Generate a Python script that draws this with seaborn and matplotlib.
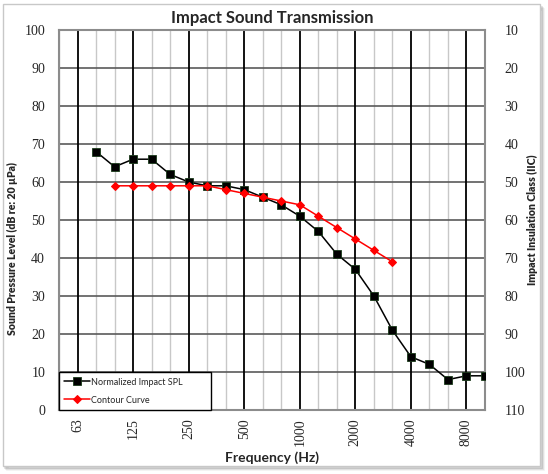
import numpy as np
import pandas as pd
import matplotlib
matplotlib.use("Agg")
import matplotlib.pyplot as plt
import matplotlib.patches as mpatches
import seaborn as sns

# third-octave bands shown on the x axis
bands = [50, 63, 80, 100, 125, 160, 200, 250, 315, 400, 500, 630, 800,
         1000, 1250, 1600, 2000, 2500, 3150, 4000, 5000, 6300, 8000, 10000]
octave_labels = ["63", "125", "250", "500", "1000", "2000", "4000", "8000"]

spl_bands = [80, 100, 125, 160, 200, 250, 315, 400, 500, 630, 800, 1000,
             1250, 1600, 2000, 2500, 3150, 4000, 5000, 6300, 8000, 10000]
spl_values = [68, 64, 66, 66, 62, 60, 59, 59, 58, 56, 54, 51,
              47, 41, 37, 30, 21, 14, 12, 8, 9, 9]

contour_bands = [100, 125, 160, 200, 250, 315, 400, 500, 630, 800, 1000,
                 1250, 1600, 2000, 2500, 3150]
contour_values = [59, 59, 59, 59, 59, 59, 58, 57, 56, 55, 54,
                  51, 48, 45, 42, 39]

pos = {b: i for i, b in enumerate(bands)}
spl = pd.DataFrame({"x": [pos[b] for b in spl_bands], "y": spl_values})
contour = pd.DataFrame({"x": [pos[b] for b in contour_bands], "y": contour_values})

sns.set_style("white")
SANS = "Lato"
SERIF = "Liberation Serif"
plt.rcParams["font.family"] = SERIF

fig = plt.figure(figsize=(5.48, 4.74), dpi=100)
fig.subplots_adjust(left=59/548, right=485/548, top=1-30/474, bottom=1-410/474)
ax = fig.add_subplot(111)

# frame with a soft shadow around the whole picture
for k, a in enumerate([0.05, 0.08, 0.12]):
    off = (3 - k) / 548
    fig.patches.append(mpatches.Rectangle((4/548 + off, 8/474 - off), 536/548, 460/474,
                                          transform=fig.transFigure, facecolor="none",
                                          edgecolor=(0, 0, 0, a), lw=2, zorder=-2))
fig.patches.append(mpatches.Rectangle((3/548, 8/474), 537/548, 462/474,
                                      transform=fig.transFigure, facecolor="white",
                                      edgecolor="#c8c8c8", lw=1, zorder=-1))

# grid: octaves black, third octaves light grey
for i in range(len(bands)):
    if bands[i] in (63, 125, 250, 500, 1000, 2000, 4000, 8000):
        ax.axvline(i, color="black", lw=1.3, zorder=1)
    else:
        ax.axvline(i, color="#c8c8c8", lw=1.0, zorder=0.5)
for yv in range(10, 100, 10):
    ax.axhline(yv, color="#5a5a5a", lw=1.2, zorder=0.8)

sns.lineplot(data=spl, x="x", y="y", ax=ax, color="black", lw=1.1,
             marker="s", markersize=6, markeredgecolor="#1a3a1a", markeredgewidth=0.6,
             label="Normalized Impact SPL", zorder=3)
sns.lineplot(data=contour, x="x", y="y", ax=ax, color="#ff0000", lw=1.1,
             marker="D", markersize=4, markeredgecolor="#ff0000",
             label="Contour Curve", zorder=4)

ax.set_xlim(0, len(bands) - 1)
ax.set_ylim(0, 100)
ax.set_yticks(range(0, 101, 10))
ax.set_yticklabels([str(v) for v in range(0, 101, 10)])
ax.set_xticks([pos[int(l)] for l in octave_labels])
ax.set_xticklabels(octave_labels, rotation=90)
ax.tick_params(axis="both", length=0, pad=6)
ax.tick_params(axis="y", pad=10)
ax.set_xlabel("Frequency (Hz)", family=SANS, fontweight="bold", fontsize=10, labelpad=4)
ax.set_ylabel("Sound Pressure Level (dB re: 20 µPa)", family=SANS, fontweight="heavy",
              fontsize=7.6)
ax.yaxis.set_label_coords(-0.096, 0.426)
ax.set_title("Impact Sound Transmission", family=SANS, fontweight="bold", fontsize=12, pad=5)
for s in ax.spines.values():
    s.set_color("#8c8c8c")
    s.set_linewidth(1.5)

ax2 = ax.twinx()
ax2.set_ylim(110, 10)
ax2.set_yticks(range(10, 111, 10))
ax2.set_yticklabels([str(v) for v in range(10, 111, 10)])
ax2.tick_params(axis="y", length=0, pad=14)
ax2.set_ylabel("Impact Insulation Class (IIC)", family=SANS, fontweight="heavy",
               fontsize=7.6)
ax2.yaxis.set_label_coords(1.099, 0.5)
for s in ax2.spines.values():
    s.set_visible(False)

for t in ax.get_xticklabels() + ax.get_yticklabels() + ax2.get_yticklabels():
    t.set_fontfamily(SERIF)
    t.set_fontsize(10)

leg = ax.legend(loc="lower left", bbox_to_anchor=(0, 0, (211 - 59) / 426, 0.1),
                mode="expand", borderaxespad=0,
                fancybox=False, edgecolor="black", framealpha=1,
                prop={"family": SANS, "size": 6.5}, handlelength=2.8,
                labelspacing=1.0, borderpad=0.6, handletextpad=0.2)
leg.get_frame().set_linewidth(1.0)
leg.set_zorder(5)

fig.savefig("out.png", dpi=100)
